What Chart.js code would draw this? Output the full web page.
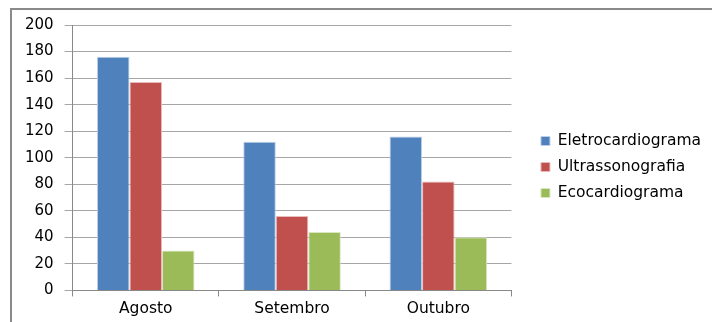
<!DOCTYPE html>
<html>
<head>
<meta charset="utf-8">
<script src="https://cdn.jsdelivr.net/npm/chart.js@4/dist/chart.umd.min.js"></script>
<style>
  html, body { margin: 0; padding: 0; background: #fff; }
  #wrap { position: relative; width: 712px; height: 322px; overflow: hidden; }
  #frame { position: absolute; left: 10px; top: 8px; right: -4px; bottom: -4px;
           border-top: 2px solid #8a8a8a; border-left: 2px solid #8a8a8a; }
  canvas { position: absolute; left: 0; top: 0; }
</style>
</head>
<body>
<div id="wrap">
  <div id="frame"></div>
  <canvas id="chart" width="712" height="322"></canvas>
</div>
<script>
const months = ["Agosto", "Setembro", "Outubro"];
const eletro = [176, 112, 116];
const ultra = [157, 56, 82];
const eco = [30, 44, 40];

Chart.defaults.font.family = "'DejaVu Sans', sans-serif";
Chart.defaults.color = "#000";

// legend sits a bit higher than chart.js centres it
const legendShift = {
    id: "legendShift",
    afterLayout(chart) {
        chart.legend.top -= 6;
        chart.legend.bottom -= 6;
    }
};

new Chart(document.getElementById("chart"), {
    type: "bar",
    data: {
        labels: months,
        datasets: [
            { label: "Eletrocardiograma", data: eletro, backgroundColor: "#4f81bd", borderColor: "#bccfe6" },
            { label: "Ultrassonografia", data: ultra, backgroundColor: "#c0504d", borderColor: "#e8bcbb" },
            { label: "Ecocardiograma", data: eco, backgroundColor: "#9bbb59", borderColor: "#d9e6c0" }
        ]
    },
    options: {
        responsive: false,
        animation: false,
        devicePixelRatio: 1,
        categoryPercentage: 0.667,
        barPercentage: 1,
        datasets: { bar: { borderWidth: 1 } },
        layout: { padding: { left: 14, top: 25, right: 1, bottom: 1 } },
        scales: {
            x: {
                grid: { drawOnChartArea: false, tickLength: 6, color: "#888" },
                border: { color: "#888" },
                ticks: { padding: 3, font: { size: 15.5 } }
            },
            y: {
                min: 0,
                max: 200,
                ticks: { stepSize: 20, padding: 11, font: { size: 15 } },
                grid: { color: "#a6a6a6", tickLength: 8 },
                border: { color: "#888" }
            },
            gap: {
                type: "linear",
                position: "right",
                display: true,
                grid: { display: false },
                border: { display: false },
                ticks: { display: false },
                afterFit: scale => { scale.width = 19; }
            }
        },
        plugins: {
            legend: {
                position: "right",
                align: "center",
                maxWidth: 260,
                labels: {
                    boxWidth: 9,
                    boxHeight: 9,
                    padding: 10.5,
                    font: { size: 15.5 }
                }
            },
            tooltip: { enabled: false }
        }
    },
    plugins: [legendShift]
});
</script>
</body>
</html>
